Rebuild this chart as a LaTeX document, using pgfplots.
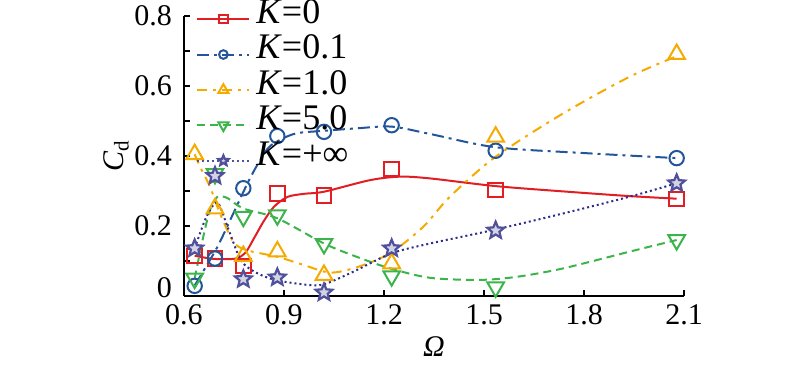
\documentclass[border=0pt]{standalone}
\usepackage{fontspec}
\setmainfont{Liberation Serif}
\usepackage{pgfplots}
\pgfplotsset{compat=1.18}
\definecolor{cred}{RGB}{225,30,35}
\definecolor{cblue}{RGB}{35,85,155}
\definecolor{cyel}{RGB}{245,170,0}
\definecolor{cgreen}{RGB}{60,180,75}
\definecolor{cnavy}{RGB}{45,45,140}
\definecolor{cstar}{RGB}{80,80,155}
\pgfdeclareplotmark{pstar}{%
  \pgfpathmoveto{\pgfqpointpolar{90}{\pgfplotmarksize}}%
  \pgfpathlineto{\pgfqpointpolar{126}{0.45\pgfplotmarksize}}%
  \pgfpathlineto{\pgfqpointpolar{162}{\pgfplotmarksize}}%
  \pgfpathlineto{\pgfqpointpolar{198}{0.45\pgfplotmarksize}}%
  \pgfpathlineto{\pgfqpointpolar{234}{\pgfplotmarksize}}%
  \pgfpathlineto{\pgfqpointpolar{270}{0.45\pgfplotmarksize}}%
  \pgfpathlineto{\pgfqpointpolar{306}{\pgfplotmarksize}}%
  \pgfpathlineto{\pgfqpointpolar{342}{0.45\pgfplotmarksize}}%
  \pgfpathlineto{\pgfqpointpolar{18}{\pgfplotmarksize}}%
  \pgfpathlineto{\pgfqpointpolar{54}{0.45\pgfplotmarksize}}%
  \pgfpathclose
  \pgfusepathqfillstroke}
\tikzset{
  s0/.style={cred, line width=1bp},
  s1/.style={cblue, line width=1bp, dash pattern=on 6bp off 2.5bp on 1.5bp off 2.5bp},
  s2/.style={cyel, line width=1bp, dash pattern=on 5bp off 3bp on 1.5bp off 3bp},
  s3/.style={cgreen, line width=1bp, dash pattern=on 4bp off 2.5bp},
  s4/.style={cnavy, line width=1bp, dash pattern=on 1bp off 1.5bp},
  m0/.style={cred, mark=square, mark size=3.6bp, mark options={solid, line width=1bp, fill=white}},
  m1/.style={cblue, mark=o, mark size=3.6bp, mark options={solid, line width=1bp, fill=white}},
  m2/.style={cyel, mark=triangle, mark size=4.8bp, mark options={solid, line width=1bp, fill=white}},
  m3/.style={cgreen, mark=triangle, mark size=4.8bp, mark options={solid, rotate=180, line width=1bp, fill=white}},
  m4/.style={cstar, mark=pstar, mark size=4.4bp, mark options={solid, line width=1.1bp, draw=cstar, fill=cstar!25!white}},
}
\begin{document}
\begin{tikzpicture}
\useasboundingbox (-92bp,-36bp) rectangle (308bp,148bp);
\begin{axis}[
  at={(0,0)}, anchor=south west,
  scale only axis, width=250bp, height=140bp,
  xmin=0.6, xmax=2.1, ymin=0, ymax=0.8,
  axis lines*=left,
  axis line style={-, line width=1bp},
  xtick={0.6,0.9,1.2,1.5,1.8,2.1},
  xticklabels={0.6,0.9,1.2,1.5,1.8,2.1},
  ytick={0,0.2,0.4,0.6,0.8},
  yticklabels={\raisebox{8bp}{0},0.2,0.4,0.6,0.8},
  minor ytick={0.1,0.3,0.5,0.7},
  tick align=inside,
  major tick length=3bp, minor tick length=3bp,
  tick style={black, line width=0.8bp},
  ticklabel style={font=\fontsize{15bp}{17bp}\selectfont},
  yticklabel style={xshift=-2.5bp},
  xticklabel style={yshift=-1bp},
  /pgf/number format/assume math mode=true,
  xlabel={\textit{Ω}}, ylabel={\textit{C}\textsubscript{d}},
  label style={font=\fontsize{15bp}{17bp}\selectfont},
  xlabel style={at={(axis description cs:0.5,-0.18)}, anchor=center},
  ylabel style={at={(axis description cs:-0.135,0.5)}, anchor=center},
  clip=false,
  legend style={draw=none, fill=none, at={(axis description cs:0,1)}, anchor=north west,
    xshift=6bp, yshift=7.5bp, inner sep=0pt, row sep=0pt, column sep=3bp,
    font=\fontsize{18bp}{20bp}\selectfont,
    nodes={inner sep=0pt, text height=11bp, text depth=6.7bp, anchor=west}},
  legend cell align=left,
  legend image code/.code={
    \draw[#1, mark=none] (0bp,0bp) -- (26bp,0bp);
    \draw[#1, only marks, every mark/.append style={scale=0.6}] plot coordinates {(13bp,0bp)};
  },
]
% curves
\addplot[s0, smooth, forget plot] coordinates {(0.632,0.115)(0.69,0.106)(0.755,0.107)(0.785,0.125)(0.81,0.165)(0.84,0.215)(0.87,0.255)(0.91,0.283)(0.96,0.292)(1.02,0.298)(1.158,0.331)(1.248,0.341)(1.338,0.336)(1.535,0.314)(1.75,0.298)(1.928,0.286)(2.078,0.278)};
\addplot[s1, smooth, forget plot] coordinates {(0.632,0.03)(0.648,0.055)(0.70,0.14)(0.748,0.236)(0.80,0.34)(0.85,0.42)(0.888,0.446)(0.938,0.465)(1.02,0.472)(1.118,0.479)(1.223,0.484)(1.338,0.463)(1.535,0.425)(1.808,0.408)(2.078,0.394)};
\addplot[s2, smooth, forget plot] coordinates {(0.632,0.405)(0.648,0.37)(0.678,0.312)(0.708,0.236)(0.748,0.155)(0.788,0.131)(0.88,0.112)(0.958,0.089)(1.038,0.067)(1.118,0.082)(1.218,0.122)(1.318,0.198)(1.398,0.284)(1.535,0.398)(1.738,0.522)(1.938,0.627)(2.078,0.685)};
\addplot[s3, smooth, forget plot] coordinates {(0.632,0.05)(0.658,0.17)(0.678,0.246)(0.70,0.283)(0.73,0.28)(0.778,0.25)(0.88,0.222)(1.02,0.15)(1.118,0.112)(1.218,0.079)(1.338,0.052)(1.488,0.046)(1.60,0.055)(1.738,0.079)(1.938,0.127)(2.078,0.16)};
\addplot[s4, smooth, forget plot] coordinates {(0.632,0.136)(0.663,0.217)(0.688,0.26)(0.705,0.262)(0.738,0.179)(0.778,0.093)(0.858,0.05)(0.978,0.031)(1.028,0.036)(1.118,0.074)(1.223,0.122)(1.338,0.15)(1.535,0.19)(1.738,0.236)(1.938,0.284)(2.078,0.322)};
% markers
\addplot[m0, only marks, forget plot] coordinates {(0.632,0.114)(0.693,0.107)(0.778,0.086)(0.88,0.293)(1.02,0.287)(1.223,0.363)(1.535,0.303)(2.078,0.278)};
\addplot[m1, only marks, forget plot] coordinates {(0.632,0.029)(0.693,0.107)(0.778,0.308)(0.88,0.457)(1.02,0.469)(1.223,0.488)(1.535,0.415)(2.078,0.394)};
\addplot[m2, only marks, forget plot] coordinates {(0.632,0.405)(0.693,0.25)(0.778,0.114)(0.88,0.127)(1.02,0.06)(1.223,0.093)(1.535,0.455)(2.078,0.691)};
\addplot[m3, only marks, forget plot] coordinates {(0.632,0.05)(0.693,0.349)(0.778,0.227)(0.88,0.231)(1.02,0.149)(1.223,0.057)(1.535,0.025)(2.078,0.16)};
\addplot[m4, only marks, forget plot] coordinates {(0.632,0.136)(0.693,0.343)(0.778,0.048)(0.88,0.053)(1.02,0.01)(1.223,0.136)(1.535,0.187)(2.078,0.322)};
% legend
\addlegendimage{s0, m0}
\addlegendentry{\textit{K}=0}
\addlegendimage{s1, m1}
\addlegendentry{\textit{K}=0.1}
\addlegendimage{s2, m2}
\addlegendentry{\textit{K}=1.0}
\addlegendimage{s3, m3}
\addlegendentry{\textit{K}=5.0}
\addlegendimage{s4, m4}
\addlegendentry{\textit{K}=+∞}
\end{axis}
\end{tikzpicture}
\end{document}
